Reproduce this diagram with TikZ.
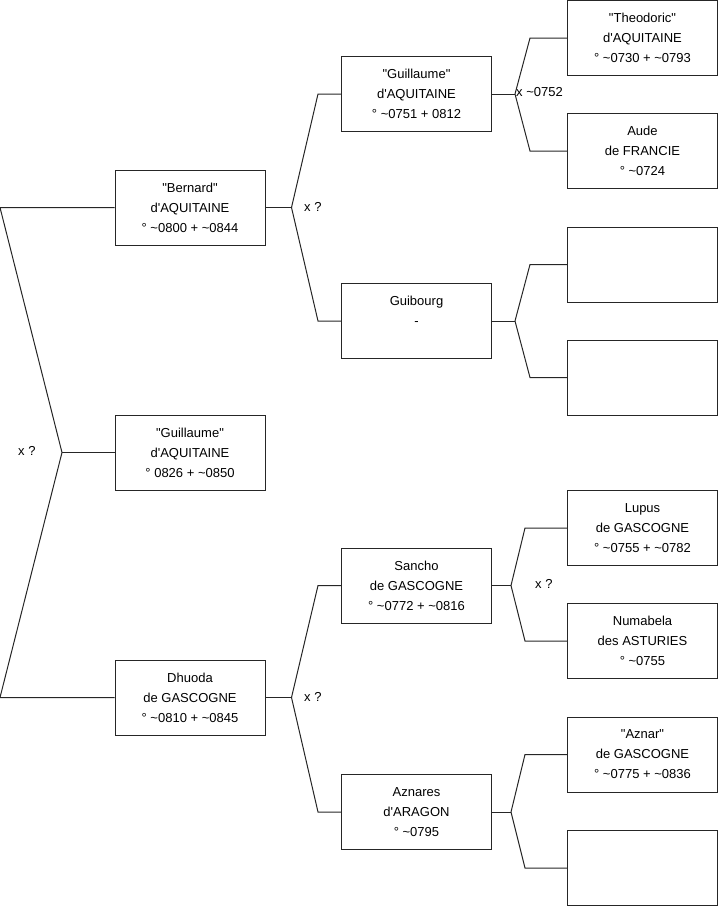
\documentclass[tikz,border=0pt]{standalone}
\usepackage{fontspec}
\newfontfamily\boxfont{Liberation Sans}
\newcommand{\ca}{\textasciitilde}
\begin{document}
\begin{tikzpicture}[x=1pt, y=-1pt,
		person/.style={draw=black!85, line width=1pt, minimum width=150pt, minimum height=75pt, align=center, inner sep=0pt},
		link/.style={draw=black!85, line width=1pt},
		lbl/.style={inner sep=0pt, anchor=west},
		font=\boxfont\fontsize{13}{20}\selectfont]
		\useasboundingbox (0,0) rectangle (719,908);
		% Generation 1
		\node[person] (bernard) at (190,207.5) {"Bernard"\\d'AQUITAINE\\° \ca0800 + \ca0844};
		\node[person] (guilB) at (190,452.5) {"Guillaume"\\d'AQUITAINE\\° 0826 + \ca0850};
		\node[person] (dhuoda) at (190,697.5) {Dhuoda\\de GASCOGNE\\° \ca0810 + \ca0845};
		% Generation 2
		\node[person] (guilA) at (416.5,94) {"Guillaume"\\d'AQUITAINE\\° \ca0751 + 0812};
		\node[person] (guibourg) at (416.5,321) {Guibourg\\-\\\mbox{}};
		\node[person] (sancho) at (416.5,585.5) {Sancho\\de GASCOGNE\\° \ca0772 + \ca0816};
		\node[person] (aznares) at (416.5,812) {Aznares\\d'ARAGON\\° \ca0795};
		% Generation 3
		\node[person] (theodoric) at (642.5,38) {"Theodoric"\\d'AQUITAINE\\° \ca0730 + \ca0793};
		\node[person] (aude) at (642.5,151) {Aude\\de FRANCIE\\° \ca0724};
		\node[person] (emptyA) at (642.5,264.5) {};
		\node[person] (emptyB) at (642.5,377.5) {};
		\node[person] (lupus) at (642.5,528) {Lupus\\de GASCOGNE\\° \ca0755 + \ca0782};
		\node[person] (numabela) at (642.5,641) {Numabela\\des ASTURIES\\° \ca0755};
		\node[person] (aznar) at (642.5,754.5) {"Aznar"\\de GASCOGNE\\° \ca0775 + \ca0836};
		\node[person] (emptyC) at (642.5,868) {};
		% Verbindungen links
		\coordinate (f0) at (62,452.5);
		\coordinate (f0t) at (0,207.5);
		\coordinate (f0b) at (0,697.5);
		\draw[link] (bernard.west) -- (f0t) -- (f0) -- (f0b) -- (dhuoda.west);
		\draw[link] (f0) -- (guilB.west);
		% Gabelungen
		\foreach \p/\t/\b/\s/\c in {bernard/guilA/guibourg/26/23, dhuoda/sancho/aznares/26/23,
				guilA/theodoric/aude/23/37, guibourg/emptyA/emptyB/23/37,
				sancho/lupus/numabela/19/42, aznares/aznar/emptyC/19/42} {
			\coordinate (f) at ([xshift=\s]\p.east);
			\draw[link] (\p.east) -- (f);
			\draw[link] (\t.west) -- ++(-\c,0) -- (f);
			\draw[link] (\b.west) -- ++(-\c,0) -- (f);
		}
		% Beschriftung
		\node[lbl] (xq0) at (18,451) {x ?};
		\node[lbl] (xq1) at (304,207) {x ?};
		\node[lbl] (xq2) at (304,697) {x ?};
		\node[lbl] (xq3) at (516,92) {x \ca0752};
		\node[lbl] (xq4) at (535,584) {x ?};
\end{tikzpicture}
\end{document}
